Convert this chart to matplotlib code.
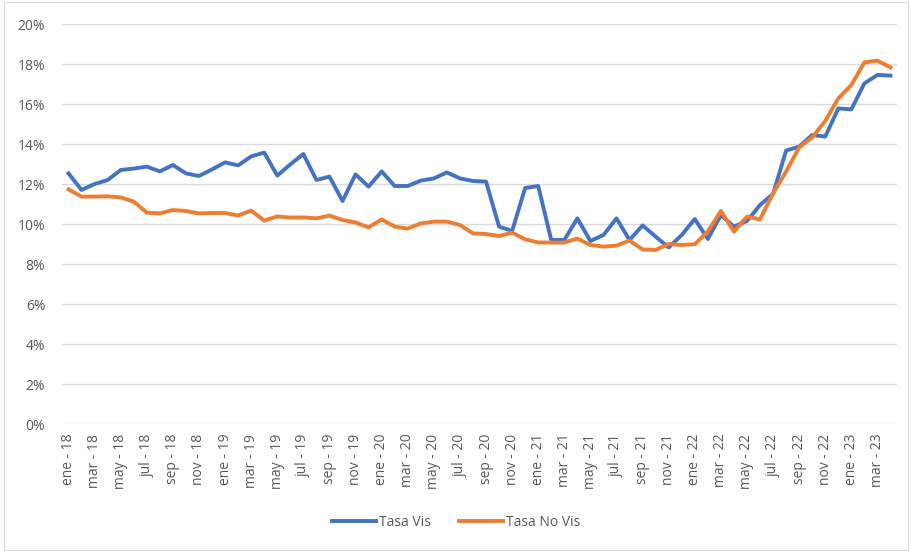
import numpy as np
import matplotlib.pyplot as plt
from matplotlib.patches import Rectangle
from matplotlib.ticker import FuncFormatter

MESES = ["ene", "feb", "mar", "abr", "may", "jun",
         "jul", "ago", "sep", "oct", "nov", "dic"]
# ene-18 .. abr-23, monthly
periodos = [f"{MESES[i % 12]} - {18 + i // 12}" for i in range(64)]

tasa_vis = [
    12.53, 11.70, 12.00, 12.20, 12.70, 12.77, 12.87, 12.63, 12.95, 12.53,
    12.40, 12.73, 13.08, 12.93, 13.38, 13.57, 12.42, 12.98, 13.50, 12.20,
    12.37, 11.15, 12.48, 11.87, 12.63, 11.90, 11.90, 12.17, 12.28, 12.58,
    12.28, 12.15, 12.12, 9.87, 9.65, 11.80, 11.90, 9.20, 9.20, 10.28,
    9.15, 9.45, 10.28, 9.20, 9.93, 9.37, 8.83, 9.45, 10.25, 9.25,
    10.45, 9.87, 10.15, 10.95, 11.50, 13.67, 13.87, 14.45, 14.37, 15.78,
    15.73, 17.03, 17.45, 17.42,
]
tasa_no_vis = [
    11.73, 11.37, 11.37, 11.38, 11.33, 11.12, 10.57, 10.53, 10.70, 10.65,
    10.53, 10.55, 10.55, 10.42, 10.67, 10.17, 10.38, 10.32, 10.33, 10.28,
    10.42, 10.20, 10.08, 9.83, 10.23, 9.87, 9.77, 10.03, 10.12, 10.12,
    9.95, 9.53, 9.50, 9.40, 9.57, 9.23, 9.08, 9.07, 9.07, 9.27,
    8.95, 8.87, 8.92, 9.17, 8.73, 8.70, 9.00, 8.95, 8.99, 9.62,
    10.65, 9.62, 10.37, 10.23, 11.53, 12.62, 13.83, 14.33, 15.15, 16.28,
    16.95, 18.08, 18.17, 17.83,
]

plt.rcParams["font.family"] = ["Open Sans", "DejaVu Sans"]
GRAY = "#595959"

fig = plt.figure(figsize=(9.12, 5.52), dpi=100)
fig.patches.append(Rectangle((0.004, 0.004), 0.992, 0.992, transform=fig.transFigure,
                             fill=False, edgecolor="#D9D9D9", linewidth=0.8))
ax = fig.add_axes([62 / 912, 1 - 424 / 552, 835 / 912, 400 / 552])

x = np.arange(len(periodos))
ax.plot(x, np.array(tasa_vis) / 100, color="#4472C4", linewidth=2.8,
        label="Tasa Vis", solid_joinstyle="round")
ax.plot(x, np.array(tasa_no_vis) / 100, color="#ED7D31", linewidth=2.8,
        label="Tasa No Vis", solid_joinstyle="round")

ax.set_xlim(-0.5, len(periodos) - 0.5)
ax.set_ylim(0, 0.20)
ax.set_yticks(np.arange(0, 0.201, 0.02))
ax.yaxis.set_major_formatter(FuncFormatter(lambda v, p: f"{v * 100:.0f}%"))
ax.set_xticks(x[::2])
ax.set_xticklabels(periodos[::2], rotation=90)
ax.grid(axis="y", color="#D9D9D9", linewidth=1)
ax.set_axisbelow(True)
for s in ax.spines.values():
    s.set_visible(False)
ax.tick_params(axis="both", length=0, colors=GRAY, labelsize=10)
ax.tick_params(axis="y", pad=12)
ax.tick_params(axis="x", pad=7)

fig.legend(loc="center", bbox_to_anchor=(0.5, 1 - 522 / 552), ncol=2, frameon=False,
           fontsize=10, labelcolor=GRAY, handlelength=3.2, handletextpad=0.2,
           columnspacing=2.0)

fig.savefig("out.png", dpi=100)
